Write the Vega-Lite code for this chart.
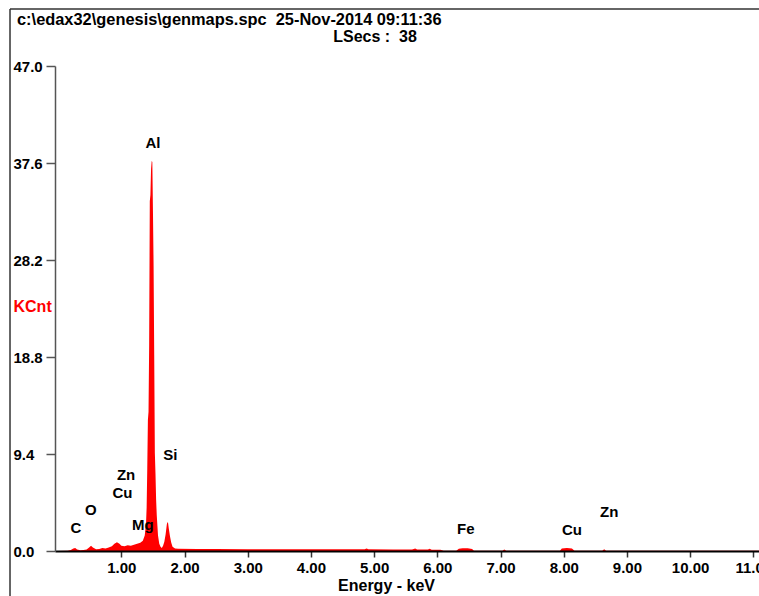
{
  "$schema": "https://vega.github.io/schema/vega-lite/v6.json",
  "autosize": "none",
  "width": 704,
  "height": 485,
  "padding": {"left": 55, "top": 66, "right": 0, "bottom": 45},
  "background": "white",
  "config": {"view": {"stroke": null}, "font": "Liberation Sans"},
  "title": {
    "text": "c:\\edax32\\genesis\\genmaps.spc\u00a0\u00a025-Nov-2014 09:11:36",
    "anchor": "start",
    "frame": "group",
    "align": "left",
    "dx": -38,
    "offset": -20,
    "font": "Liberation Sans",
    "fontSize": 16.4,
    "fontWeight": "bold",
    "color": "black"
  },
  "datasets": {
    "spectrum": [
      {"e": 0.00, "c": 0}, {"e": 0.15, "c": 0.02}, {"e": 0.20, "c": 0.1}, {"e": 0.24, "c": 0.25},
      {"e": 0.27, "c": 0.3}, {"e": 0.30, "c": 0.15}, {"e": 0.35, "c": 0.08}, {"e": 0.40, "c": 0.1},
      {"e": 0.45, "c": 0.15}, {"e": 0.49, "c": 0.35}, {"e": 0.52, "c": 0.5}, {"e": 0.55, "c": 0.35},
      {"e": 0.60, "c": 0.18}, {"e": 0.65, "c": 0.2}, {"e": 0.70, "c": 0.3}, {"e": 0.75, "c": 0.25},
      {"e": 0.80, "c": 0.35}, {"e": 0.85, "c": 0.45}, {"e": 0.89, "c": 0.7}, {"e": 0.93, "c": 0.85},
      {"e": 0.97, "c": 0.7}, {"e": 1.00, "c": 0.5}, {"e": 1.05, "c": 0.45}, {"e": 1.10, "c": 0.55},
      {"e": 1.15, "c": 0.5}, {"e": 1.20, "c": 0.6}, {"e": 1.25, "c": 0.7}, {"e": 1.30, "c": 0.8},
      {"e": 1.34, "c": 1.0}, {"e": 1.37, "c": 1.5}, {"e": 1.39, "c": 2.6}, {"e": 1.40, "c": 4.2},
      {"e": 1.41, "c": 8.0}, {"e": 1.42, "c": 12.7}, {"e": 1.43, "c": 13.5}, {"e": 1.44, "c": 20.0},
      {"e": 1.45, "c": 33.9}, {"e": 1.46, "c": 34.5}, {"e": 1.47, "c": 37.0}, {"e": 1.48, "c": 37.8},
      {"e": 1.49, "c": 37.7}, {"e": 1.50, "c": 33.0}, {"e": 1.51, "c": 27.7}, {"e": 1.52, "c": 19.0},
      {"e": 1.53, "c": 9.5}, {"e": 1.54, "c": 7.5}, {"e": 1.55, "c": 5.0}, {"e": 1.56, "c": 3.5},
      {"e": 1.57, "c": 2.5}, {"e": 1.58, "c": 1.5}, {"e": 1.60, "c": 0.7}, {"e": 1.62, "c": 0.4},
      {"e": 1.64, "c": 0.3}, {"e": 1.66, "c": 0.5}, {"e": 1.68, "c": 0.9}, {"e": 1.70, "c": 1.6},
      {"e": 1.72, "c": 2.6}, {"e": 1.73, "c": 2.8}, {"e": 1.74, "c": 2.7}, {"e": 1.75, "c": 2.2},
      {"e": 1.77, "c": 1.4}, {"e": 1.79, "c": 0.8}, {"e": 1.81, "c": 0.4}, {"e": 1.85, "c": 0.25},
      {"e": 1.90, "c": 0.22}, {"e": 2.20, "c": 0.2}, {"e": 2.50, "c": 0.19}, {"e": 3.00, "c": 0.18},
      {"e": 3.50, "c": 0.17}, {"e": 4.00, "c": 0.17}, {"e": 4.50, "c": 0.16}, {"e": 4.85, "c": 0.16},
      {"e": 4.88, "c": 0.25}, {"e": 4.91, "c": 0.16}, {"e": 5.30, "c": 0.15}, {"e": 5.60, "c": 0.15},
      {"e": 5.65, "c": 0.24}, {"e": 5.68, "c": 0.14}, {"e": 5.85, "c": 0.14}, {"e": 5.88, "c": 0.22},
      {"e": 5.91, "c": 0.13}, {"e": 6.05, "c": 0.12}, {"e": 6.10, "c": 0.03}, {"e": 6.30, "c": 0.03},
      {"e": 6.34, "c": 0.22}, {"e": 6.40, "c": 0.26}, {"e": 6.48, "c": 0.26}, {"e": 6.55, "c": 0.2},
      {"e": 6.58, "c": 0.03}, {"e": 7.03, "c": 0.03}, {"e": 7.06, "c": 0.15}, {"e": 7.09, "c": 0.03},
      {"e": 7.94, "c": 0.03}, {"e": 7.97, "c": 0.25}, {"e": 8.05, "c": 0.28}, {"e": 8.13, "c": 0.25},
      {"e": 8.17, "c": 0.03}, {"e": 8.61, "c": 0.03}, {"e": 8.64, "c": 0.18}, {"e": 8.67, "c": 0.03},
      {"e": 11.09, "c": 0.03}
    ],
    "labels": [
      {"el": "Al", "e": 1.50, "c": 39.5},
      {"el": "Si", "e": 1.775, "c": 9.27},
      {"el": "Zn", "e": 1.075, "c": 7.33},
      {"el": "Cu", "e": 1.018, "c": 5.61},
      {"el": "O", "e": 0.517, "c": 4.0},
      {"el": "C", "e": 0.28, "c": 2.25},
      {"el": "Mg", "e": 1.34, "c": 2.48},
      {"el": "Fe", "e": 6.45, "c": 2.16},
      {"el": "Cu", "e": 8.13, "c": 2.06},
      {"el": "Zn", "e": 8.72, "c": 3.77}
    ]
  },
  "layer": [
    {
      "data": {"name": "spectrum"},
      "mark": {"type": "area", "color": "#ff0000", "interpolate": "linear"},
      "encoding": {
        "x": {
          "field": "e", "type": "quantitative",
          "scale": {"domain": [-0.05, 11.09], "nice": false, "zero": false},
          "axis": {
            "values": [1, 2, 3, 4, 5, 6, 7, 8, 9, 10, 11],
            "format": ".2f",
            "grid": false,
            "zindex": 1,
            "domainColor": "black", "domainWidth": 2,
            "tickColor": "#333", "tickSize": 6, "tickWidth": 1.5,
            "labelFont": "Liberation Sans", "labelFontSize": 15, "labelFontWeight": "bold", "labelColor": "black",
            "labelPadding": 3, "labelBound": false, "labelOverlap": false, "labelFlush": false,
            "title": "Energy - keV",
            "titleFont": "Liberation Sans", "titleFontSize": 16, "titleFontWeight": "bold", "titleColor": "black",
            "titleX": 331, "titleY": 34, "titleAlign": "center", "titleBaseline": "middle", "titleAnchor": null
          }
        },
        "y": {
          "field": "c", "type": "quantitative",
          "scale": {"domain": [0, 47], "nice": false},
          "axis": {
            "values": [0, 9.4, 18.8, 28.2, 37.6, 47],
            "format": ".1f",
            "grid": false,
            "zindex": 1,
            "domainColor": "#555", "domainWidth": 1.5,
            "tickColor": "#555", "tickSize": 9, "tickWidth": 1.5,
            "labelFont": "Liberation Sans", "labelFontSize": 15, "labelFontWeight": "bold", "labelColor": "black",
            "labelAlign": "left", "labelBaseline": "middle", "labelPadding": 33, "labelBound": false, "labelOverlap": false, "labelFlush": false,
            "title": "KCnt",
            "titleFont": "Liberation Sans", "titleFontSize": 16, "titleFontWeight": "bold", "titleColor": "#ff0000",
            "titleAngle": 0, "titleX": -42, "titleY": 240, "titleAlign": "left", "titleBaseline": "middle", "titleAnchor": null
          }
        }
      }
    },
    {
      "data": {"name": "labels"},
      "mark": {"type": "text", "font": "Liberation Sans", "fontSize": 15, "fontWeight": "bold", "color": "black", "align": "center", "baseline": "middle"},
      "encoding": {
        "x": {"field": "e", "type": "quantitative"},
        "y": {"field": "c", "type": "quantitative"},
        "text": {"field": "el"}
      }
    },
    {
      "data": {"values": [{}]},
      "mark": {"type": "text", "text": "LSecs :\u00a0\u00a038", "font": "Liberation Sans", "fontSize": 16, "fontWeight": "bold", "color": "black", "align": "right", "baseline": "middle"},
      "encoding": {
        "x": {"datum": 5.675, "type": "quantitative"},
        "y": {"datum": 49.81, "type": "quantitative"}
      }
    },
    {
      "data": {"values": [{}]},
      "mark": {"type": "rule", "color": "#333", "strokeWidth": 1.5},
      "encoding": {
        "x": {"datum": -0.762, "type": "quantitative"},
        "y": {"datum": 52.52, "type": "quantitative"},
        "y2": {"datum": -5}
      }
    },
    {
      "data": {"values": [{}]},
      "mark": {"type": "rule", "color": "#333", "strokeWidth": 1.5},
      "encoding": {
        "y": {"datum": 52.52, "type": "quantitative"},
        "x": {"datum": -0.762, "type": "quantitative"},
        "x2": {"datum": 11.3}
      }
    }
  ]
}
